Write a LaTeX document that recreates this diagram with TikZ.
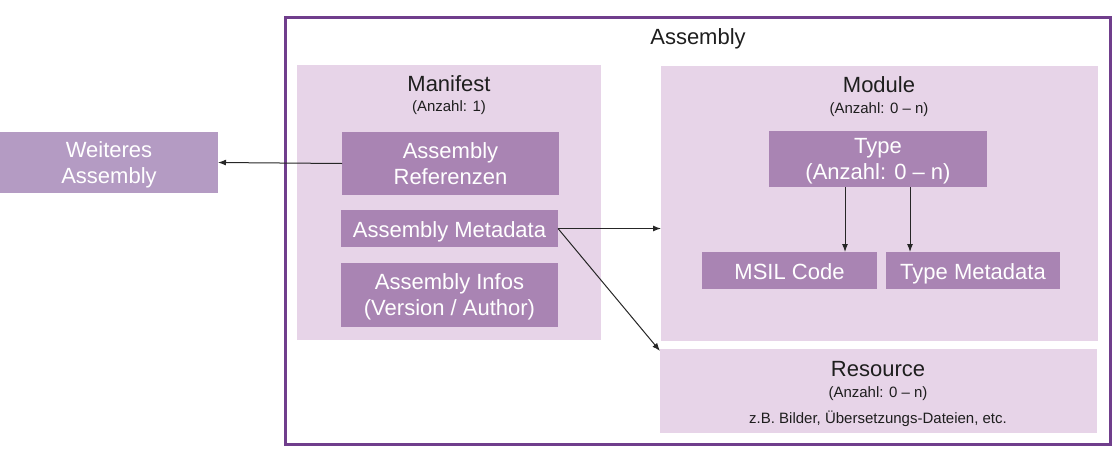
\documentclass[tikz,border=0pt]{standalone}
\usepackage{fontspec}
\setmainfont{Liberation Sans}
\usetikzlibrary{arrows.meta,calc}
\definecolor{frame}{RGB}{112,62,140}
\definecolor{light}{RGB}{231,212,232}
\definecolor{dark}{RGB}{169,132,179}
\definecolor{weit}{RGB}{180,155,195}
\definecolor{txt}{RGB}{30,30,30}
\begin{document}
\begin{tikzpicture}[x=1pt,y=-1pt,
  container/.style={fill=light,draw=none,inner sep=0pt,outer sep=0pt},
  dbox/.style={fill=dark,draw=none,inner sep=0pt,outer sep=0pt,text=white,align=center,
    font=\fontsize{22}{26}\selectfont},
  oneline/.style={text height=17.5pt,text depth=0pt},
  twoline/.style={text height=42pt,text depth=1pt},
  title/.style={text=txt,inner sep=0pt,anchor=base,font=\fontsize{22}{26}\selectfont},
  small/.style={text=txt,inner sep=0pt,anchor=base,font=\fontsize{15}{18}\selectfont},
  arr/.style={-{Latex[length=8pt,width=6pt]},line width=1pt,draw=black!85}]
\useasboundingbox (0,0) rectangle (1120,450);
\node[draw=frame,line width=3pt,minimum width=825pt,minimum height=427pt,inner sep=0pt] (assembly) at (697.5,230.5) {};
\node[title] (asmtitle) at (698,44.3) {Assembly};
% containers
\node[container,minimum width=304pt,minimum height=275pt] (manifest) at (449,202.5) {};
\node[container,minimum width=437pt,minimum height=275pt] (module) at (879.5,203.5) {};
\node[container,minimum width=437pt,minimum height=84pt] (resource) at (878.5,391) {};
% titles
\node[title] (mantitle) at (449,91.7) {Manifest};
\node[small] (mancount) at (449,111.7) {(Anzahl: 1)};
\node[title] (modtitle) at (879,92.3) {Module};
\node[small] (modcount) at (879,113.3) {(Anzahl: 0 – n)};
\node[title] (restitle) at (878,376.7) {Resource};
\node[small] (rescount) at (878,397.3) {(Anzahl: 0 – n)};
\node[small] (resnote) at (878,423.3) {z.B. Bilder, Übersetzungs-Dateien, etc.};
% boxes
\node[dbox,twoline,fill=weit,minimum width=218pt,minimum height=61pt] (weiteres) at (109,162.5) {Weiteres\\Assembly};
\node[dbox,twoline,minimum width=217pt,minimum height=63pt] (ref) at (450.5,163.5) {Assembly\\Referenzen};
\node[dbox,oneline,minimum width=217pt,minimum height=37pt] (meta) at (449.5,228.5) {Assembly Metadata};
\node[dbox,twoline,minimum width=217pt,minimum height=64pt] (infos) at (449.5,295) {Assembly Infos\\(Version / Author)};
\node[dbox,twoline,minimum width=218pt,minimum height=56pt] (type) at (878,159) {Type\\(Anzahl: 0 – n)};
\node[dbox,oneline,minimum width=175pt,minimum height=37pt] (msil) at (789.5,270.5) {MSIL Code};
\node[dbox,oneline,minimum width=174pt,minimum height=37pt] (tmeta) at (973,270.5) {Type Metadata};
% connectors
\draw[arr] (ref.west) -- (weiteres.east);
\draw[arr] (meta.east) -- (meta.east -| module.west);
\draw[arr] (meta.east) -- ([yshift=-2pt]resource.north west);
\draw[arr] ([xshift=76pt]type.south west) -- ([xshift=76pt]type.south west |- msil.north);
\draw[arr] ([xshift=141pt]type.south west) -- ([xshift=141pt]type.south west |- tmeta.north);
\end{tikzpicture}
\end{document}
